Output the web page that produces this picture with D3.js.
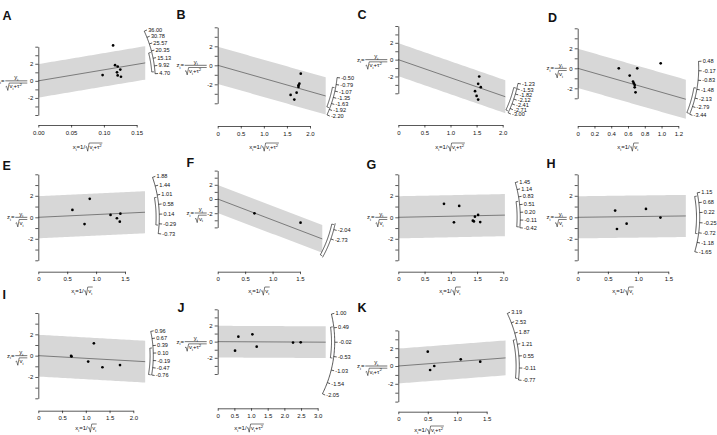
<!DOCTYPE html>
<html><head><meta charset="utf-8">
<script src="https://cdn.jsdelivr.net/npm/d3@7"></script>
<style>
body{margin:0;background:#fff}
svg{display:block}
text{font-family:"Liberation Sans",Arial,Helvetica,sans-serif;fill:#111}
</style>
</head><body>
<svg id="chart" width="717" height="435"></svg>
<script>
// ---------- data ----------
const letters = ["A","B","C","D","E","F","G","H","I","J","K"];
const xMax   = [0.15, 2.0, 2.0, 1.2, 1.5, 1.5, 2.0, 1.5, 2.0, 3.0, 1.5];
const xStep  = [0.05, 0.5, 0.5, 0.2, 0.5, 0.5, 0.5, 0.5, 0.5, 0.5, 0.5];
const yMin   = [-4, -4, -4, -3, -4, -4, -4, -4, -4, -4, -4];
const yMaxV  = [4, 4, 4, 4, 4, 4, 4, 4, 4, 4, 4];
const yLabeled = [-2, 0, 2];
const useTau = [true, true, true, false, false, false, false, false, false, true, true];
const slope  = [12.9, -1.38, -2.15, -2.4, 0.255, -2.95, 0.1, 0.07, -0.25, -0.02, 0.5];
const bandEnd = [0.163, 2.34, 2.05, 1.29, 1.846, 1.906, 2.03, 1.79, 2.25, 3.24, 1.82];
const ciLow  = [6.0, -1.85, -2.9, -3.4, -0.35, -4.2, -0.39, -0.77, -0.76, -0.59, -0.69];
const ciHigh = [19.4, -0.93, -1.5, -1.4, 0.91, -1.7, 0.65, 1.0, 0.3, 0.53, 1.49];

const pointsA = [[0.098,0.68],[0.114,4.15],[0.117,1.84],[0.121,1.68],[0.125,1.32],[0.120,1.0],[0.121,0.64],[0.126,0.48]];
const pointsB = [[1.80,-0.88],[1.77,-1.93],[1.75,-2.10],[1.75,-2.28],[1.71,-2.88],[1.58,-3.12],[1.66,-3.61]];
const pointsC = [[1.55,-2.0],[1.53,-2.87],[1.58,-3.27],[1.47,-3.75],[1.50,-4.31],[1.53,-4.75]];
const pointsD = [[0.49,0.0],[0.71,0.0],[0.99,0.5],[0.62,-0.73],[0.66,-1.33],[0.67,-1.5],[0.68,-1.67],[0.68,-1.9],[0.69,-2.4]];
const pointsE = [[0.59,0.69],[0.89,1.72],[0.80,-0.63],[1.25,0.22],[1.36,-0.09],[1.42,0.34],[1.41,-0.41]];
const pointsF = [[0.67,-2.02],[1.51,-3.33]];
const pointsG = [[0.87,1.25],[1.16,1.06],[1.06,-0.47],[1.42,-0.31],[1.44,-0.38],[1.46,0.06],[1.52,0.22],[1.56,-0.44]];
const pointsH = [[0.62,0.63],[0.65,-1.09],[0.81,-0.59],[1.13,0.78],[1.37,-0.03]];
const pointsI = [[0.69,-0.03],[0.70,-0.08],[1.05,-0.56],[1.17,1.16],[1.35,-1.09],[1.72,-0.88]];
const pointsJ = [[0.52,-1.11],[0.62,0.62],[1.04,0.91],[1.17,-0.62],[2.26,-0.12],[2.49,-0.08]];
const pointsK = [[0.50,1.61],[0.54,-0.45],[0.61,0.0],[1.06,0.75],[1.39,0.49]];
const points = [pointsA,pointsB,pointsC,pointsD,pointsE,pointsF,pointsG,pointsH,pointsI,pointsJ,pointsK];

const arcA = [36.00, 30.78, 25.57, 20.35, 15.13, 9.92, 4.70];
const arcB = [-0.50, -0.79, -1.07, -1.35, -1.63, -1.92, -2.20];
const arcC = [-1.23, -1.53, -1.82, -2.12, -2.41, -2.71, -3.00];
const arcD = [0.48, -0.17, -0.83, -1.48, -2.13, -2.79, -3.44];
const arcE = [1.88, 1.44, 1.01, 0.58, 0.14, -0.29, -0.73];
const arcF = [-2.04, -2.73];
const arcG = [1.45, 1.14, 0.83, 0.51, 0.20, -0.11, -0.42];
const arcH = [1.15, 0.68, 0.22, -0.25, -0.72, -1.18, -1.65];
const arcI = [0.96, 0.67, 0.39, 0.10, -0.19, -0.47, -0.76];
const arcJ = [1.00, 0.49, -0.02, -0.53, -1.03, -1.54, -2.05];
const arcK = [3.19, 2.53, 1.87, 1.21, 0.55, -0.11, -0.77];
const arcLabels = [arcA,arcB,arcC,arcD,arcE,arcF,arcG,arcH,arcI,arcJ,arcK];

// ---------- layout (pixels) ----------
const layout = [
 {x0:38.3, x1:136.7, yTop:46.7, yBot:115,  axisY:125,   R:117, lx:2.5,  ly:19.5,  xlx:87.5, xly:147, yldy:0},
 {x0:217.7,x1:310,   yTop:27.3, yBot:103.3,axisY:126,   R:120, lx:176.5,ly:19.3,  xlx:264,  xly:147, yldy:0},
 {x0:398.3,x1:502.7, yTop:26,   yBot:93.3, axisY:125,   R:122, lx:357.5,ly:19.3,  xlx:450,  xly:147, yldy:0},
 {x0:577.7,x1:678.3, yTop:28.3, yBot:98.3, axisY:126,   R:121, lx:548,  ly:21.7,  xlx:628,  xly:147, yldy:0},
 {x0:38.3, x1:125,   yTop:174.3,yBot:260.3,axisY:271.7, R:121, lx:2.5,  ly:170,   xlx:82,   xly:291, yldy:0},
 {x0:217.7,x1:300,   yTop:170.6,yBot:227.4,axisY:271.7, R:120, lx:186.5,ly:166.7, xlx:259,  xly:291, yldy:14, arcSpan:[-4.3,-1.6]},
 {x0:398.3,x1:503.3, yTop:174.3,yBot:260.3,axisY:271.7, R:122, lx:366.5,ly:169,   xlx:450,  xly:291, yldy:0},
 {x0:577.7,x1:668.3, yTop:174.3,yBot:260.3,axisY:271.7, R:122, lx:546.5,ly:167.7, xlx:623,  xly:291, yldy:0},
 {x0:38.3, x1:133.3, yTop:313,  yBot:398.3,axisY:410.7, R:115, lx:2.5,  ly:299.3, xlx:86,   xly:428, yldy:0},
 {x0:217.7,x1:317.7, yTop:309.3,yBot:374,  axisY:408.3, R:117, lx:177.5,ly:311.7, xlx:249,  xly:428, yldy:0},
 {x0:398.3,x1:486.7, yTop:330.4,yBot:401.6,axisY:411.7, R:121, lx:357.5,ly:311.7, xlx:429,  xly:430, yldy:0}
];

const svg = d3.select("#chart");
const FS = 6;       // tick label size
const AFS = 5.6;    // arc label size

function subText(sel, parts, anchor){
  // parts: [{t, sub, sup}]
  const t = sel.append("text").attr("text-anchor", anchor || "start").attr("font-size", FS);
  let shift = 0;
  parts.forEach(p=>{
    const ts = t.append("tspan").text(p.t);
    let target = p.sub ? 1.6 : (p.sup ? -2.4 : 0);
    if (p.sub || p.sup) ts.attr("font-size", FS*0.72);
    ts.attr("dy", target - shift);
    shift = target;
  });
  return t;
}

function drawYLabel(g, xr, yc, tau){
  const fw = tau ? 22 : 12;
  const xl = xr - fw;
  g.append("line").attr("x1", xl).attr("x2", xr).attr("y1", yc).attr("y2", yc)
    .attr("stroke","#111").attr("stroke-width",0.6);
  subText(g.append("g").attr("transform",`translate(${xl+fw/2},${yc-1.6})`),
    [{t:"y"},{t:"i",sub:true}], "middle");
  // radical
  const a = xl + 0.3;
  const top = yc + 2.2;
  g.append("path")
    .attr("d", `M${a},${yc+6} L${a+1},${yc+5.4} L${a+2.2},${yc+9.6} L${a+3.6},${top} L${xr},${top}`)
    .attr("fill","none").attr("stroke","#111").attr("stroke-width",0.55);
  const parts = tau ? [{t:"v"},{t:"i",sub:true},{t:"+τ"},{t:"2",sup:true}] : [{t:"v"},{t:"i",sub:true}];
  subText(g.append("g").attr("transform",`translate(${a+4},${yc+7.6})`), parts, "start");
  subText(g.append("g").attr("transform",`translate(${xl-0.8},${yc+2})`),
    [{t:"z"},{t:"i",sub:true},{t:"="}], "end");
}

function drawXLabel(g, cx, cy, tau){
  const lg = g.append("g");
  const t1 = subText(lg, [{t:"x"},{t:"i",sub:true},{t:"=1/"}], "start");
  const w1 = t1.node().getComputedTextLength();
  const a = w1 + 0.4;
  const parts = tau ? [{t:"v"},{t:"i",sub:true},{t:"+τ"},{t:"2",sup:true}] : [{t:"v"},{t:"i",sub:true}];
  const t2 = subText(lg.append("g").attr("transform",`translate(${a+4},0)`), parts, "start");
  const w2 = t2.node().getComputedTextLength();
  lg.append("path")
    .attr("d", `M${a},-1.8 L${a+1},-2.4 L${a+2.2},2.2 L${a+3.6},-6 L${a+4+w2+0.6},-6`)
    .attr("fill","none").attr("stroke","#111").attr("stroke-width",0.55);
  const bb = lg.node().getBBox();
  lg.attr("transform", `translate(${cx - (bb.x + bb.width/2)},${cy + 2})`);
}

letters.forEach((L, i) => {
  const P = layout[i];
  const g = svg.append("g");
  const x = d3.scaleLinear().domain([0, xMax[i]]).range([P.x0, P.x1]);
  const y = d3.scaleLinear().domain([yMin[i], yMaxV[i]]).range([P.yBot, P.yTop]);
  const kx = (P.x1 - P.x0) / xMax[i];
  const ky = (P.yBot - P.yTop) / (yMaxV[i] - yMin[i]);
  const ox = x(0), oy = y(0);
  const zc = 1.96;

  // band
  const bx = d3.range(0, 41).map(k => bandEnd[i] * k / 40);
  const area = d3.area().x(d => x(d)).y0(d => y(slope[i]*d - zc)).y1(d => y(slope[i]*d + zc));
  g.append("path").datum(bx).attr("d", area).attr("fill", "#d7d7d7");
  // estimate line
  g.append("line").attr("x1", x(0)).attr("y1", y(0))
    .attr("x2", x(bandEnd[i])).attr("y2", y(slope[i]*bandEnd[i]))
    .attr("stroke", "#707070").attr("stroke-width", 0.9);

  // points
  g.selectAll("circle.pt").data(points[i]).join("circle")
    .attr("cx", d => x(d[0])).attr("cy", d => y(d[1])).attr("r", 1.35).attr("fill", "#000");

  // y axis
  const yAxis = d3.axisLeft(y)
    .tickValues(d3.range(yMin[i], yMaxV[i] + 1))
    .tickFormat(d => yLabeled.includes(d) ? String(d) : "")
    .tickSize(3).tickSizeOuter(0).tickPadding(2);
  const ya = g.append("g").attr("transform", `translate(${P.x0},0)`).call(yAxis);
  ya.selectAll("text").attr("font-size", FS).attr("font-family", "Liberation Sans, Arial, sans-serif").attr("fill","#111");
  ya.selectAll("line,path").attr("stroke", "#111").attr("stroke-width", 0.7);

  // x axis
  const nT = Math.round(xMax[i] / xStep[i]);
  const xt = d3.range(0, nT + 1).map(k => +(k * xStep[i]).toFixed(3));
  const fmt = xStep[i] < 0.1 ? d3.format(".2f") : (d => d === 0 ? "0" : d3.format(".1f")(d));
  const xAxis = d3.axisBottom(x).tickValues(xt).tickFormat(fmt).tickSize(2.5).tickSizeOuter(0).tickPadding(3);
  const xa = g.append("g").attr("transform", `translate(0,${P.axisY})`).call(xAxis);
  xa.selectAll("text").attr("font-size", FS).attr("font-family", "Liberation Sans, Arial, sans-serif").attr("fill","#111");
  xa.selectAll("line,path").attr("stroke", "#111").attr("stroke-width", 0.7);

  // radial arc
  const ang = v => Math.atan2(v * ky, kx);
  const pt = (a, r) => [ox + r * Math.cos(a), oy - r * Math.sin(a)];
  const labs = arcLabels[i];
  const span = P.arcSpan || [d3.min(labs), d3.max(labs)];
  const aScale = d3.scaleLinear().domain([0, 60]).range([ang(span[0]), ang(span[1])]);
  const arcPts = d3.range(0, 61).map(k => pt(aScale(k), P.R));
  g.append("path").attr("d", d3.line()(arcPts)).attr("fill", "none").attr("stroke", "#111").attr("stroke-width", 0.7);
  labs.forEach(v => {
    const a = ang(v);
    const p1 = pt(a, P.R), p2 = pt(a, P.R + 3);
    g.append("line").attr("x1", p1[0]).attr("y1", p1[1]).attr("x2", p2[0]).attr("y2", p2[1])
      .attr("stroke", "#111").attr("stroke-width", 0.7);
    g.append("text").attr("x", p2[0] + 1.2).attr("y", p2[1]).attr("dy", "0.35em")
      .attr("font-size", AFS).text(d3.format(".2f")(v).replace("−","-"));
  });
  // CI arc (inner)
  const cScale = d3.scaleLinear().domain([0, 40]).range([ang(ciLow[i]), ang(ciHigh[i])]);
  const ciPts = d3.range(0, 41).map(k => pt(cScale(k), P.R - 3.2));
  g.append("path").attr("d", d3.line()(ciPts)).attr("fill", "none").attr("stroke", "#111").attr("stroke-width", 0.7);
  [ciLow[i], ciHigh[i]].forEach(v => {
    const a = ang(v);
    const p1 = pt(a, P.R - 3.2), p2 = pt(a, P.R - 1);
    g.append("line").attr("x1", p1[0]).attr("y1", p1[1]).attr("x2", p2[0]).attr("y2", p2[1])
      .attr("stroke", "#111").attr("stroke-width", 0.6);
  });

  // panel letter
  g.append("text").attr("x", P.lx).attr("y", P.ly).attr("font-size", 12.5).attr("font-weight", "bold").text(L);

  // axis titles
  drawYLabel(g, P.x0 - 11, oy + P.yldy, useTau[i]);
  drawXLabel(g, P.xlx, P.xly, useTau[i]);
});
</script>
</body></html>
